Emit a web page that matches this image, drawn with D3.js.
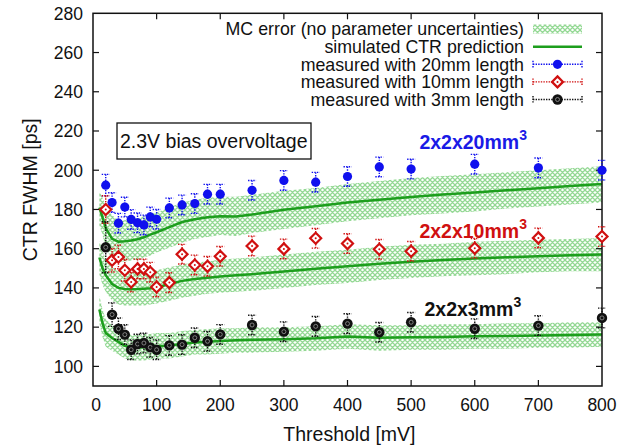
<!DOCTYPE html>
<html lang="en">
<head>
    <meta charset="UTF-8">
    <title>CTR FWHM vs threshold</title>
    <script src="https://d3js.org/d3.v7.min.js"></script>
    <style>
        body { margin: 0; background: #fff; }
        text { font-family: "Liberation Sans", Arial, sans-serif; fill: #111; }
        .frame { fill: none; stroke: #111; stroke-width: 1.5px; }
        .sim { fill: none; stroke: #1d9e1d; stroke-width: 2.5px; }
        .err { stroke-width: 1.4px; stroke-dasharray: 1.4,1.2; fill: none; }
    </style>
</head>
<body>
<svg width="644" height="448"></svg>
<script>
    // simulated curves (threshold grid) + MC error band
    const simX = [10,15,20,30,40,50,60,70,80,90,100,120,140,160,180,200,225,250,300,350,400,450,500,550,600,650,700,750,800];

    const sim20 = [181,176,170.5,165,163.6,163.8,164.2,164.8,165.8,167.2,168.4,171,173.6,175,176,176.5,176.4,177.4,179.8,181.6,183.6,185,186.4,187.6,188.6,189.8,190.8,192,193];
    const band20Hi = [189,186,182,177,174.5,174.5,175,175.5,176.5,177.5,178.5,181,183.5,185,186,186.5,186.5,187.5,189.5,191,193,194.5,196,197,198,199,200,201,202];
    const band20Lo = [172,167,160,155,153.5,153.5,154,154.5,155.5,156.5,158,160.5,163,165,166,167,166.5,168,170,172,174,175.5,177,178,179,180.5,181.5,182.5,183.5];

    const sim10 = [155.5,150,146.5,142,140,139.5,139.3,139.4,139.6,139.8,140.2,142,143.6,144.5,145.2,145.8,146.4,147,148.4,149.8,151,152.3,153.4,154.2,155,155.6,156.2,156.6,157];
    const band10Hi = [164,158.5,155,150.5,148.5,148,148,148,148,148.5,149,150.5,152,153,153.5,154.5,155,155.5,157,158.5,159.5,161,162,162.5,163.5,164,164.5,165,165.5];
    const band10Lo = [147,141.5,138,133.5,131.5,131,131,131,131,131.5,132,133.5,135,136,137,137.5,138,138.5,140,141.5,142.5,144,145,146,146.5,147,148,148.5,148.5];

    const sim3 = [129,122,117,114.5,112.5,110.5,109.6,109.6,109.8,110,110.3,110.6,111.4,112.2,112.6,113,113.3,113.6,113.8,114.3,115.2,114.6,114.8,115,115.3,115.5,115.7,116,116.2];
    const band3Hi = [136,129,124,121,119,117,116,116,116.5,116.5,117,117,118,118.5,119,119.5,119.5,120,120,120.5,121.5,121,121,121.5,121.5,122,122,122.5,122.5];
    const band3Lo = [122,115,110,108,106,104,103,103,103,103.5,104,104,105,106,106,106.5,107,107,107.5,108,109,108,108.5,108.5,109,109,109.5,109.5,110];

    // measurements
    const measX = [20,30,40,50,60,70,80,90,100,120,140,160,180,200,250,300,350,400,450,500,600,700,800];
    const meas20 = [192.4,183.5,173,181.2,174.9,173.2,172.1,176.2,175,180.8,182.3,183,187.8,187.8,189.8,194.8,193.9,196.8,201.7,200.6,203.1,201.2,200];
    const err20  = [5.5,5,5,5,5,5,5,5,5,5,5,5,5,5,5,5,5,5,5,5,5,5,5];
    const meas10 = [180,154.1,155.8,149,143,149.7,149.7,148,140.5,142.7,157.2,151.7,151,156.1,161.4,159.9,165.3,162.6,159.7,158.7,160.2,165.5,166.2];
    const err10  = [7,6,6,5.5,5,5,5,5,5,5,5,5,5,5,5,5,5,5,5,5,5,5,5];
    const meas3  = [160.7,126.4,119.2,116.2,108.5,111.4,111.9,109.7,108.5,110.7,111.1,114.6,112.8,116.3,121.1,117.7,120.4,121.8,117.4,122.5,119.2,120.8,124.7];
    const err3   = [13,6,5.5,5,5,5,5,5,5,5,5,5,5,5,5,5,5,5,5,5,5,5,5];

    const xTicks = [0,100,200,300,400,500,600,700,800];
    const yTicks = [100,120,140,160,180,200,220,240,260,280];

    const legendLabels = [
        "MC error (no parameter uncertainties)",
        "simulated CTR prediction",
        "measured with 20mm length",
        "measured with 10mm length",
        "measured with 3mm length"
    ];

    const svg = d3.select("svg");
    const box = {left: 93, right: 602, top: 13.3, bottom: 386};

    const x = d3.scaleLinear().domain([0, 800]).range([box.left, box.right]);
    const y = d3.scaleLinear().domain([90, 280]).range([box.bottom, box.top]);

    // crosshatch pattern for the MC band
    const defs = svg.append("defs");
    const pat = defs.append("pattern")
        .attr("id", "hatch")
        .attr("patternUnits", "userSpaceOnUse")
        .attr("width", 5).attr("height", 5);
    pat.append("path").attr("d", "M0,0L5,5M5,0L0,5M-1,4L1,6M4,-1L6,1M-1,1L1,-1M4,6L6,4")
        .attr("stroke", "#93d893").attr("stroke-width", 1.3);

    const bands = [[band20Lo, band20Hi], [band10Lo, band10Hi], [band3Lo, band3Hi]];
    const area = d3.area()
        .x((d, i) => x(simX[i]))
        .y0(d => y(d[0]))
        .y1(d => y(d[1]));

    svg.append("g").selectAll("path")
        .data(bands)
        .join("path")
        .attr("d", b => area(b[0].map((v, i) => [v, b[1][i]])))
        .attr("fill", "url(#hatch)");

    const line = d3.line()
        .x((d, i) => x(simX[i]))
        .y(d => y(d));

    svg.append("g").selectAll("path")
        .data([sim20, sim10, sim3])
        .join("path")
        .attr("class", "sim")
        .attr("d", line);

    // frame + ticks
    svg.append("rect").attr("class", "frame")
        .attr("x", box.left).attr("y", box.top)
        .attr("width", box.right - box.left).attr("height", box.bottom - box.top);

    const tk = svg.append("g").attr("stroke", "#111").attr("stroke-width", 1.2);
    xTicks.slice(1, -1).forEach(t => {
        tk.append("line").attr("x1", x(t)).attr("x2", x(t)).attr("y1", box.bottom).attr("y2", box.bottom - 6);
        tk.append("line").attr("x1", x(t)).attr("x2", x(t)).attr("y1", box.top).attr("y2", box.top + 6);
    });
    yTicks.slice(0, -1).forEach(t => {
        tk.append("line").attr("x1", box.left).attr("x2", box.left + 6).attr("y1", y(t)).attr("y2", y(t));
        tk.append("line").attr("x1", box.right).attr("x2", box.right - 6).attr("y1", y(t)).attr("y2", y(t));
    });

    svg.append("g").selectAll("text")
        .data(xTicks)
        .join("text")
        .attr("x", d => x(d) + (d === 0 ? 3 : 0))
        .attr("y", 411)
        .attr("text-anchor", "middle")
        .attr("font-size", 17.5)
        .text(d => d);

    svg.append("g").selectAll("text")
        .data(yTicks)
        .join("text")
        .attr("x", 83)
        .attr("y", d => y(d) + 6.3)
        .attr("text-anchor", "end")
        .attr("font-size", 17.5)
        .text(d => d);

    svg.append("text")
        .attr("transform", "translate(37," + y(190) + ") rotate(-90)")
        .attr("text-anchor", "middle")
        .attr("font-size", 19.5)
        .text("CTR FWHM [ps]");

    svg.append("text")
        .attr("x", x(403)).attr("y", 441)
        .attr("text-anchor", "middle")
        .attr("font-size", 19.5)
        .text("Threshold [mV]");

    // measured series
    const series = [
        {vals: meas20, errs: err20, color: "#1010ee", kind: "circle"},
        {vals: meas10, errs: err10, color: "#d01010", kind: "diamond"},
        {vals: meas3,  errs: err3,  color: "#111111", kind: "black"}
    ];

    function marker(g, cx, cy, s) {
        if (s.kind === "circle") {
            g.append("circle").attr("cx", cx).attr("cy", cy).attr("r", 4.6).attr("fill", s.color);
        } else if (s.kind === "diamond") {
            g.append("path")
                .attr("d", `M${cx},${cy - 5.5}L${cx + 5.5},${cy}L${cx},${cy + 5.5}L${cx - 5.5},${cy}Z`)
                .attr("fill", "#fff").attr("stroke", s.color).attr("stroke-width", 2.2);
            g.append("circle").attr("cx", cx).attr("cy", cy).attr("r", 1).attr("fill", s.color);
        } else {
            g.append("circle").attr("cx", cx).attr("cy", cy).attr("r", 5.2).attr("fill", s.color);
            g.append("circle").attr("cx", cx).attr("cy", cy).attr("r", 2).attr("fill", "none")
                .attr("stroke", "#999").attr("stroke-width", 0.8);
        }
    }

    series.forEach(s => {
        const g = svg.append("g");
        s.vals.forEach((v, i) => {
            const cx = x(measX[i]);
            const y1 = y(v + s.errs[i]), y2 = y(v - s.errs[i]);
            g.append("line").attr("class", "err").attr("stroke", s.color)
                .attr("x1", cx).attr("x2", cx).attr("y1", y1).attr("y2", y2);
            [y1, y2].forEach(yy => g.append("line").attr("class", "err").attr("stroke", s.color)
                .attr("x1", cx - 4).attr("x2", cx + 4).attr("y1", yy).attr("y2", yy));
            marker(g, cx, y(v), s);
        });
    });

    // labels on the curves
    const labels = [
        {t: "2x2x20mm", c: "#1a1ae6", xv: 513, yv: 211},
        {t: "2x2x10mm", c: "#d01010", xv: 513, yv: 165.5},
        {t: "2x2x3mm",  c: "#111111", xv: 521, yv: 125.5}
    ];
    labels.forEach(l => {
        const tx = svg.append("text")
            .attr("x", x(l.xv)).attr("y", y(l.yv))
            .attr("font-size", 19.5).attr("font-weight", "bold")
            .style("fill", l.c);
        tx.append("tspan").text(l.t);
        tx.append("tspan").attr("dy", -9).attr("font-size", 14).text("3");
    });

    // annotation box
    svg.append("rect")
        .attr("x", 117).attr("y", 123).attr("width", 194).attr("height", 36)
        .attr("fill", "#fff").attr("stroke", "#111").attr("stroke-width", 1.3);
    svg.append("text")
        .attr("x", 120).attr("y", 148)
        .attr("font-size", 19.5)
        .text("2.3V bias overvoltage");

    // legend
    const lg = svg.append("g");
    const rowY = [29, 46.7, 64.3, 81.9, 99.5];
    lg.selectAll("text")
        .data(legendLabels)
        .join("text")
        .attr("x", 524)
        .attr("y", (d, i) => rowY[i] + 6.3)
        .attr("text-anchor", "end")
        .attr("font-size", 17.8)
        .text(d => d);

    lg.append("rect").attr("x", 533).attr("y", rowY[0] - 4.5)
        .attr("width", 49).attr("height", 9).attr("fill", "url(#hatch)");
    lg.append("line").attr("class", "sim")
        .attr("x1", 533).attr("x2", 582).attr("y1", rowY[1]).attr("y2", rowY[1]);
    series.forEach((s, i) => {
        const yy = rowY[i + 2];
        lg.append("line").attr("class", "err").attr("stroke", s.color)
            .attr("x1", 533).attr("x2", 582).attr("y1", yy).attr("y2", yy);
        [533, 582].forEach(xx => lg.append("line").attr("class", "err").attr("stroke", s.color)
            .attr("x1", xx).attr("x2", xx).attr("y1", yy - 3.5).attr("y2", yy + 3.5));
        marker(lg, 557.5, yy, s);
    });
</script>
</body>
</html>
